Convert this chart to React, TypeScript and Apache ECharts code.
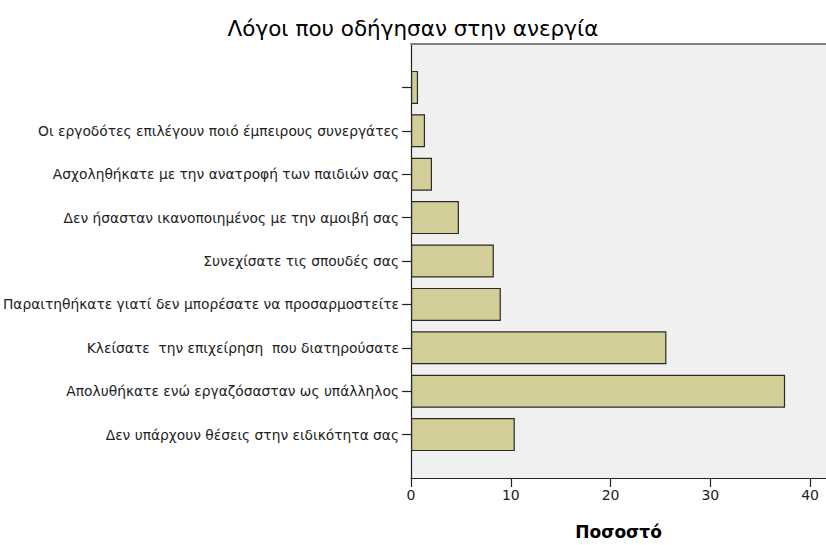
import React, { useEffect, useRef } from "react";
import * as echarts from "echarts";

// Categories from top to bottom, as shown in the reference
const CATEGORIES_TOP_DOWN: string[] = [
  " ",
  "Οι εργοδότες επιλέγουν ποιό έμπειρους συνεργάτες",
  "Ασχοληθήκατε με την ανατροφή των παιδιών σας",
  "Δεν ήσασταν ικανοποιημένος με την αμοιβή σας",
  "Συνεχίσατε τις σπουδές σας",
  "Παραιτηθήκατε γιατί δεν μπορέσατε να προσαρμοστείτε",
  "Κλείσατε  την επιχείρηση  που διατηρούσατε",
  "Απολυθήκατε ενώ εργαζόσασταν ως υπάλληλος",
  "Δεν υπάρχουν θέσεις στην ειδικότητα σας",
];
const PERCENT_TOP_DOWN: number[] = [0.7, 1.4, 2.1, 4.8, 8.3, 9.0, 25.6, 37.5, 10.4];
const X_TICKS: number[] = [0, 10, 20, 30, 40];

const TITLE = "Λόγοι που οδήγησαν στην ανεργία";
const X_NAME = "Ποσοστό";

const PAD_BOTTOM = "__pad_bottom__";
const PAD_TOP = "__pad_top__";

export default function App() {
  const ref = useRef<HTMLDivElement>(null);

  useEffect(() => {
    document.body.style.margin = "0";
    if (!ref.current) return;
    const chart = echarts.init(ref.current, undefined, { renderer: "svg" });

    const cats = [PAD_BOTTOM, ...CATEGORIES_TOP_DOWN.slice().reverse(), PAD_TOP];
    const vals: (number | null)[] = [null, ...PERCENT_TOP_DOWN.slice().reverse(), null];
    const lastIdx = cats.length - 1;
    const font = "'DejaVu Sans', Arial, sans-serif";

    chart.setOption({
      animation: false,
      backgroundColor: "#ffffff",
      textStyle: { fontFamily: font },
      title: {
        text: TITLE,
        left: "center",
        top: 12,
        textStyle: { fontFamily: font, fontSize: 21.5, fontWeight: "normal", color: "#000" },
      },
      grid: {
        left: 410.5,
        right: 0,
        top: 44,
        bottom: 63,
        containLabel: false,
        show: true,
        backgroundColor: "#f0f0f0",
        borderWidth: 0,
      },
      xAxis: [
        {
          type: "value",
          min: 0,
          max: 41.6,
          interval: 10,
          name: X_NAME,
          nameLocation: "middle",
          nameGap: 45,
          nameTextStyle: {
            fontFamily: font,
            fontSize: 17,
            fontWeight: "bold",
            color: "#000",
          },
          axisLine: { show: true, lineStyle: { color: "#222", width: 1.2 } },
          axisTick: { show: true, length: 9, lineStyle: { color: "#222", width: 1.2 } },
          axisLabel: {
            margin: 10,
            fontFamily: font,
            fontSize: 14,
            color: "#222",
            showMaxLabel: false,
            formatter: (v: number) => (X_TICKS.includes(v) ? String(v) : ""),
          },
          splitLine: { show: false },
        },
        {
          type: "value",
          position: "top",
          min: 0,
          max: 41.6,
          axisLine: { show: true, lineStyle: { color: "#808080", width: 2 } },
          axisTick: { show: false },
          axisLabel: { show: false },
          splitLine: { show: false },
        },
      ],
      yAxis: {
        type: "category",
        data: cats,
        boundaryGap: false,
        axisLine: { show: true, lineStyle: { color: "#222", width: 1.2 } },
        axisTick: {
          show: true,
          length: 9,
          interval: (index: number) => index !== 0 && index !== lastIdx,
          lineStyle: { color: "#222", width: 1.2 },
        },
        axisLabel: {
          margin: 12,
          fontFamily: font,
          fontSize: 13.8,
          color: "#222",
          interval: 0,
          formatter: (v: string) => (v === PAD_BOTTOM || v === PAD_TOP ? "" : v),
        },
        splitLine: { show: false },
      },
      series: [
        {
          type: "bar",
          xAxisIndex: 0,
          data: vals,
          barWidth: "76%",
          itemStyle: { color: "#d3ce97", borderColor: "#2a2a2a", borderWidth: 1.2 },
        },
      ],
    });

    return () => chart.dispose();
  }, []);

  return <div ref={ref} style={{ width: 826, height: 545 }} />;
}
